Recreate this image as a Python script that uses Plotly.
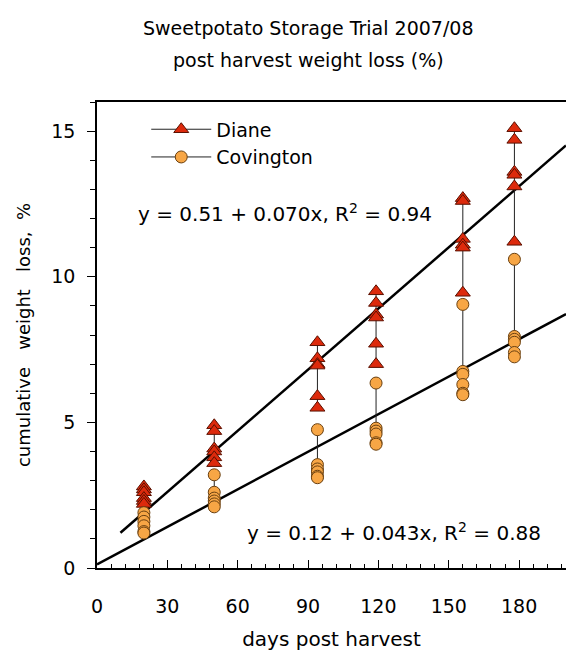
import plotly.graph_objects as go

# ---- data ----
days = [20, 50, 94, 119, 156, 178]
diane = [
    [2.8, 2.7, 2.6, 2.4, 2.3, 2.2],
    [4.9, 4.7, 4.1, 4.0, 3.8, 3.6],
    [7.75, 7.2, 7.0, 6.95, 5.9, 5.5],
    [9.5, 9.1, 8.7, 8.6, 7.7, 7.0],
    [12.7, 12.6, 11.3, 11.1, 11.0, 9.45],
    [15.1, 14.7, 13.6, 13.5, 13.1, 11.2],
]
covington = [
    [1.9, 1.75, 1.6, 1.45, 1.25, 1.2],
    [3.2, 2.6, 2.4, 2.3, 2.2, 2.1],
    [4.75, 3.55, 3.4, 3.3, 3.15, 3.1],
    [6.35, 4.8, 4.7, 4.6, 4.3, 4.25],
    [9.05, 6.75, 6.65, 6.3, 6.0, 5.95],
    [10.6, 7.95, 7.85, 7.75, 7.4, 7.25],
]
# regression: intercept, slope, x start, x end
diane_fit = [0.51, 0.070, 10, 200]
cov_fit = [0.12, 0.043, 0, 200]
diane_eq = "y = 0.51 + 0.070x, R<sup>2</sup> = 0.94"
cov_eq = "y = 0.12 + 0.043x, R<sup>2</sup> = 0.88"
title_lines = ["Sweetpotato Storage Trial 2007/08", "post harvest weight loss (%)"]
x_ticks = [0, 30, 60, 90, 120, 150, 180]
y_ticks = [0, 5, 10, 15]

FONT = "DejaVu Sans"


def stacked(groups):
    xs, ys = [], []
    for d, vals in zip(days, groups):
        for v in vals:
            xs.append(d)
            ys.append(v)
        xs.append(None)
        ys.append(None)
    return xs, ys


fig = go.Figure()

for fit in (diane_fit, cov_fit):
    b0, b1, xa, xb = fit
    fig.add_trace(go.Scatter(
        x=[xa, xb], y=[b0 + b1 * xa, b0 + b1 * xb], mode="lines",
        line=dict(color="black", width=2.5), showlegend=False, hoverinfo="skip"))

dx, dy = stacked(diane)
fig.add_trace(go.Scatter(
    x=dx, y=dy, mode="lines+markers", name="Diane",
    line=dict(color="#222222", width=1),
    marker=dict(symbol="triangle-up", size=13, color="#dd2a0c",
                line=dict(color="#5a1000", width=1))))
cx, cy = stacked(covington)
fig.add_trace(go.Scatter(
    x=cx, y=cy, mode="lines+markers", name="Covington",
    line=dict(color="#222222", width=1),
    marker=dict(symbol="circle", size=12, color="#f7a645",
                line=dict(color="#6a4010", width=1))))

fig.add_annotation(x=80, y=12.2, xref="x", yref="y", text=diane_eq, showarrow=False,
                   font=dict(family=FONT, size=20, color="black"))
fig.add_annotation(x=126.5, y=1.25, xref="x", yref="y", text=cov_eq, showarrow=False,
                   font=dict(family=FONT, size=20, color="black"))
for txt, yy in zip(title_lines, [1.159, 1.090]):
    fig.add_annotation(x=0.45, y=yy, xref="paper", yref="paper", text=txt,
                       showarrow=False, xanchor="center", yanchor="middle",
                       font=dict(family=FONT, size=19, color="black"))

fig.update_layout(
    width=566, height=658,
    margin=dict(l=97, r=0, t=102, b=90),
    plot_bgcolor="white", paper_bgcolor="white",
    font=dict(family=FONT, size=19, color="black"),
    legend=dict(x=0.105, y=0.982, xanchor="left", yanchor="top",
                bgcolor="rgba(0,0,0,0)", itemwidth=60, tracegroupgap=0,
                font=dict(family=FONT, size=19, color="black")),
)
fig.update_xaxes(
    range=[0, 200], showgrid=False, zeroline=False,
    showline=True, linecolor="black", linewidth=1.5, mirror=True,
    tickvals=x_ticks, ticks="inside", ticklen=8, tickcolor="black",
    minor=dict(dtick=6, tick0=0, ticks="inside", ticklen=4, tickcolor="black"),
    tickfont=dict(family=FONT, size=19), ticklabelstandoff=20,
    title=dict(text="days post harvest", font=dict(family=FONT, size=20), standoff=16),
)
fig.update_yaxes(
    range=[0, 16], showgrid=False, zeroline=False,
    showline=True, linecolor="black", linewidth=1.5, mirror=False,
    tickvals=y_ticks, ticks="outside", ticklen=8, tickcolor="black",
    minor=dict(dtick=1, tick0=0, ticks="outside", ticklen=5, tickcolor="black"),
    tickfont=dict(family=FONT, size=19), ticklabelstandoff=8,
    title=dict(text="cumulative&nbsp;&nbsp; weight&nbsp;&nbsp; loss,&nbsp; %",
               font=dict(family=FONT, size=18), standoff=16),
)

fig.write_html("out.html")
